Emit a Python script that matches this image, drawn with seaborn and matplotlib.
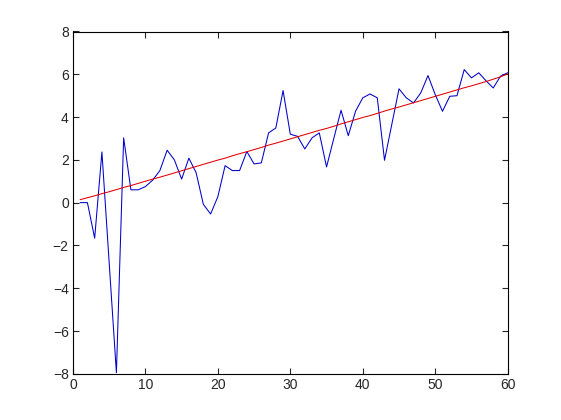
import numpy as np
import pandas as pd
import matplotlib
matplotlib.use("Agg")
import matplotlib.pyplot as plt
import seaborn as sns

# ─────────────────────────────────────────────
# DATA
# ─────────────────────────────────────────────
x_vals = list(range(1, 61))

signal = [0.00, 0.00, -1.66, 2.37, -2.80, -7.95, 3.03, 0.60, 0.60, 0.75,
          1.05, 1.50, 2.45, 2.00, 1.10, 2.08, 1.40, -0.08, -0.53, 0.28,
          1.73, 1.50, 1.50, 2.39, 1.81, 1.86, 3.26, 3.49, 5.24, 3.20,
          3.10, 2.51, 3.03, 3.26, 1.67, 3.00, 4.32, 3.13, 4.27, 4.90,
          5.08, 4.90, 1.98, 3.65, 5.32, 4.90, 4.66, 5.13, 5.94, 5.05,
          4.27, 4.97, 5.00, 6.22, 5.83, 6.07, 5.70, 5.36, 5.91, 6.07]

trend = [0.14, 0.23, 0.32, 0.42, 0.51, 0.61, 0.71, 0.80, 0.90, 1.00,
         1.10, 1.19, 1.29, 1.39, 1.49, 1.59, 1.69, 1.79, 1.89, 1.99,
         2.08, 2.19, 2.29, 2.38, 2.48, 2.58, 2.69, 2.78, 2.88, 2.98,
         3.08, 3.18, 3.28, 3.38, 3.47, 3.57, 3.68, 3.78, 3.88, 3.98,
         4.07, 4.17, 4.28, 4.38, 4.47, 4.57, 4.67, 4.77, 4.87, 4.97,
         5.07, 5.17, 5.27, 5.37, 5.46, 5.56, 5.66, 5.77, 5.88, 6.02]

x_ticks = [0, 10, 20, 30, 40, 50, 60]
y_ticks = [-8, -6, -4, -2, 0, 2, 4, 6, 8]

df = pd.DataFrame({"x": x_vals, "signal": signal, "trend": trend})

# ─────────────────────────────────────────────
# PLOT
# ─────────────────────────────────────────────
sns.set_style("ticks")
plt.rcParams["font.family"] = ["Liberation Sans", "DejaVu Sans"]
plt.rcParams["xtick.direction"] = "in"
plt.rcParams["ytick.direction"] = "in"

fig = plt.figure(figsize=(5.61, 4.2), dpi=100)
ax = fig.add_axes([0.13, 0.11, 0.775, 0.815])

sns.lineplot(data=df, x="x", y="signal", color="#0000cc", linewidth=0.75, ax=ax)
sns.lineplot(data=df, x="x", y="trend", color="#e00000", linewidth=0.75, ax=ax)

ax.set_xlim(0, 60)
ax.set_ylim(-8, 8)
ax.set_xticks(x_ticks)
ax.set_yticks(y_ticks)
ax.set_xlabel("")
ax.set_ylabel("")
ax.tick_params(top=True, right=True, length=4, width=0.8, labelsize=10, pad=3)
for sp in ax.spines.values():
    sp.set_visible(True)
    sp.set_linewidth(0.8)
    sp.set_color("black")

fig.savefig("out.png", dpi=100)
